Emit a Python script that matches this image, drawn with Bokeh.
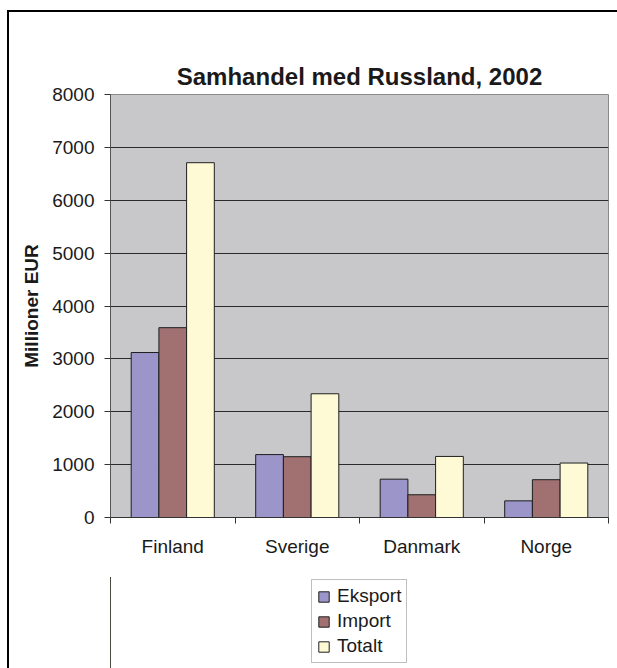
from bokeh.plotting import figure
from bokeh.layouts import column
from bokeh.models import (Range1d, ColumnDataSource, LinearAxis,
                          FixedTicker, Legend, LegendItem, Title)
from bokeh.transform import dodge
from bokeh.embed import file_html
from bokeh.resources import INLINE

categories = ["Finland", "Sverige", "Danmark", "Norge"]
eksport = [3120, 1190, 725, 315]
import_values = [3590, 1150, 430, 715]
totalt = [6710, 2340, 1155, 1030]
y_ticks = [0, 1000, 2000, 3000, 4000, 5000, 6000, 7000, 8000]
series_names = ["Eksport", "Import", "Totalt"]
chart_title = "Samhandel med Russland, 2002"

FONT = "Liberation Sans"
TXT = "#1a1a1a"

n = len(categories)
centers = [i + 0.5 for i in range(n)]
bounds = list(range(n + 1))
src = ColumnDataSource(dict(pos=centers, land=categories, eksport=eksport,
                            importv=import_values, totalt=totalt))

p = figure(x_range=Range1d(0, n), y_range=Range1d(0, 8000),
           frame_width=498, frame_height=423,
           output_backend="svg", toolbar_location=None,
           x_axis_location=None,
           min_border_left=101, min_border_right=9,
           min_border_top=82, min_border_bottom=60)

p.background_fill_color = "#c8c8ca"
p.border_fill_color = "white"
p.outline_line_color = "#8a8a8a"

# empty spacer between the plot area and the title (nearest to the frame)
top_spacer = LinearAxis(ticker=FixedTicker(ticks=[]), major_tick_out=35,
                        major_tick_in=0, minor_tick_out=0, minor_tick_in=0,
                        major_label_standoff=0,
                        axis_line_color=None, major_tick_line_color=None,
                        minor_tick_line_color=None)
p.add_layout(top_spacer, "above")
p.add_layout(Title(text=chart_title, align="center", text_font=FONT,
                   text_font_size="24px", text_font_style="bold",
                   text_color=TXT, standoff=10), "above")

yax = p.yaxis[0]
yax.ticker = FixedTicker(ticks=y_ticks)
yax.axis_label = "Millioner EUR"
yax.axis_label_text_font = FONT
yax.axis_label_text_font_size = "19px"
yax.axis_label_text_font_style = "bold"
yax.axis_label_text_color = TXT
yax.axis_label_standoff = 7
yax.major_label_text_font = FONT
yax.major_label_text_font_size = "19px"
yax.major_label_text_color = TXT
yax.major_label_standoff = 10
yax.major_tick_out = 6
yax.major_tick_in = 0
yax.minor_tick_out = 0
yax.minor_tick_in = 0
yax.axis_line_color = "#555555"
yax.major_tick_line_color = "#333333"

p.xgrid.visible = False
p.ygrid.grid_line_color = "#2a2a2a"
p.ygrid.grid_line_width = 1

x_axis = LinearAxis(ticker=FixedTicker(ticks=centers, minor_ticks=bounds),
                    major_label_overrides={c: name for c, name in zip(centers, categories)},
                    major_tick_out=0, major_tick_in=0,
                    minor_tick_out=6, minor_tick_in=0,
                    axis_line_color="#333333", minor_tick_line_color="#333333",
                    major_label_text_font=FONT,
                    major_label_text_font_size="19px",
                    major_label_text_color=TXT,
                    major_label_standoff=12)
p.add_layout(x_axis, "below")

w = 0.2225
colors = ["#9b95c9", "#a17172", "#fffad6"]
fields = ["eksport", "importv", "totalt"]
offsets = [-w, 0, w]
for f, c, o in zip(fields, colors, offsets):
    p.vbar(x=dodge("pos", o), top=f, width=w, source=src,
           fill_color=c, line_color="#1e1e1e", line_width=1)

# legend strip under the chart (its renderers lie outside its own view)
leg = figure(x_range=Range1d(100, 101), y_range=Range1d(0, 1),
             width=608, height=91, output_backend="svg", toolbar_location=None,
             x_axis_location=None, y_axis_location=None, min_border=0)
leg.outline_line_color = None
leg.background_fill_color = "white"
leg.border_fill_color = "white"
leg.center = []
leg_renderers = []
for f, c, o in zip(fields, colors, offsets):
    r = leg.vbar(x=dodge("pos", o), top=f, width=w, source=src,
                 fill_color=c, line_color="#1e1e1e", line_width=1)
    leg_renderers.append(r)

legend = Legend(items=[LegendItem(label=nm, renderers=[r]) for nm, r in zip(series_names, leg_renderers)],
                location=(201, 5), orientation="vertical",
                label_text_font=FONT, label_text_font_size="19px",
                label_text_color=TXT, label_height=22, label_standoff=7,
                glyph_width=13, glyph_height=13, spacing=3, padding=5, margin=0,
                border_line_color="#808080", border_line_width=1,
                background_fill_color="white", background_fill_alpha=1)
leg.add_layout(legend, "center")

page = column(p, leg, spacing=0)
page.styles = {"border-left": "2px solid black", "border-top": "2px solid black",
               "margin-left": "7px", "margin-top": "10px"}

open("out.html", "w").write(file_html(page, INLINE))
